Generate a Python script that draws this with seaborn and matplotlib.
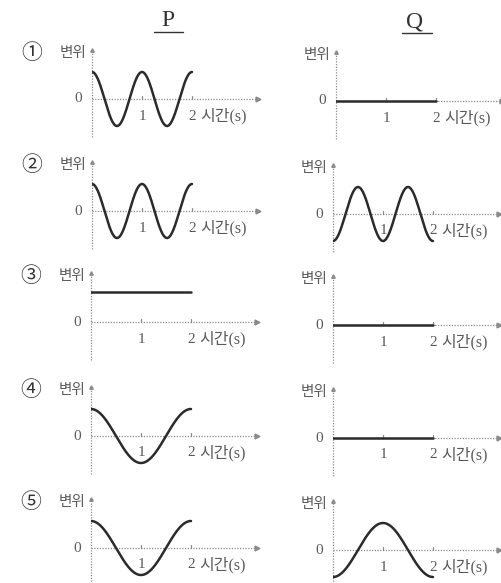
import numpy as np
import pandas as pd
import matplotlib
matplotlib.use("Agg")
import matplotlib.pyplot as plt
import seaborn as sns

# ---- data ----
row_labels = ["①", "②", "③", "④", "⑤"]
col_titles = ["P", "Q"]
y_label = "변위"
x_label = "시간(s)"
tick_times = [1, 2]
t_end = 2.0
# each panel: (kind, amplitude, frequency_Hz)  kind: 'cos', 'negcos', 'const', 'zero'
P_kind = ["cos", "cos", "const", "cos", "cos"]
P_amp = [1.0, 1.0, 1.1, 1.0, 1.0]
P_freq = [1.0, 1.0, 0.0, 0.5, 0.5]
Q_kind = ["zero", "negcos", "zero", "zero", "negcos"]
Q_amp = [0.0, 1.0, 0.0, 0.0, 1.0]
Q_freq = [0.0, 1.0, 0.0, 0.0, 0.5]

# ---- layout (pixels) ----
W, H = 501, 583
P_axis_x = [92, 92, 91, 91, 91]
P_zero_y = [99, 211, 322, 436, 548]
Q_axis_x = [336, 333, 333, 333, 333]
Q_zero_y = [101, 214, 325, 438, 550]
PX_T = 50.0   # px per second
PX_A = 27.0   # px per unit displacement
UP, DOWN, RIGHT = 52, 40, 170

sns.set_theme(style="white")
plt.rcParams["font.family"] = ["Liberation Serif", "Noto Sans CJK KR", "DejaVu Sans"]

fig = plt.figure(figsize=(W / 100, H / 100), dpi=100)
fig.patch.set_facecolor("white")

TXT = "#5a5a5a"
AX = "#8a8a8a"
CURVE = "#2b2b2b"


def series(kind, amp, freq, t):
    if kind == "cos":
        return amp * np.cos(2 * np.pi * freq * t)
    if kind == "negcos":
        return -amp * np.cos(2 * np.pi * freq * t)
    if kind == "const":
        return np.full_like(t, amp)
    return np.zeros_like(t)


def panel(ax_x, zero_y, kind, amp, freq, label=None):
    left = ax_x / W
    bottom = 1 - (zero_y + DOWN) / H
    ax = fig.add_axes([left, bottom, RIGHT / W, (UP + DOWN) / H])
    xmax = (RIGHT - 4) / PX_T
    # axes (dotted) with arrow heads
    ax.plot([0, xmax], [0, 0], ls=(0, (1, 1.2)), color=AX, lw=0.9, clip_on=False)
    ax.plot([xmax], [0], marker=">", ms=3.5, color=AX, clip_on=False)
    ytop = (UP - 3) / PX_A
    ax.plot([0, 0], [-(DOWN - 2) / PX_A, ytop], ls=(0, (1, 1.2)), color=AX, lw=0.9, clip_on=False)
    ax.plot([0], [ytop], marker="^", ms=2.5, color=AX, clip_on=False)
    for tt in tick_times:
        ax.plot([tt, tt], [0, 3 / PX_A], color=AX, lw=0.9, clip_on=False)
    # curve
    t = np.linspace(0, t_end, 400)
    df = pd.DataFrame({"t": t, "y": series(kind, amp, freq, t)})
    sns.lineplot(data=df, x="t", y="y", ax=ax, color=CURVE, lw=1.8, legend=False)
    ax.set_xlim(0, RIGHT / PX_T)
    ax.set_ylim(-DOWN / PX_A, UP / PX_A)
    ax.axis("off")
    # labels
    ax.text(-6 / PX_T, 46 / PX_A, y_label, ha="right", va="center", fontsize=10.5,
            color=TXT, family=["Noto Sans CJK KR", "DejaVu Sans"])
    ax.text(-10 / PX_T, 0, "0", ha="right", va="center", fontsize=11, color=TXT)
    ax.text(1, -17 / PX_A, "1", ha="center", va="center", fontsize=11, color=TXT)
    ax.text(2, -17 / PX_A, "2", ha="center", va="center", fontsize=11, color=TXT)
    ax.text(2 + 8 / PX_T, -17 / PX_A, x_label, ha="left", va="center", fontsize=11.5,
            color=TXT, family=["Liberation Serif", "Noto Sans CJK KR", "DejaVu Sans"])
    if label is not None:
        ax.text(-60 / PX_T, 46 / PX_A, label, ha="center", va="center", fontsize=15,
                color="#333333", family=["Noto Sans CJK KR", "DejaVu Sans"])
    return ax


for i in range(5):
    panel(P_axis_x[i], P_zero_y[i], P_kind[i], P_amp[i], P_freq[i], row_labels[i])
    panel(Q_axis_x[i], Q_zero_y[i], Q_kind[i], Q_amp[i], Q_freq[i])

# column titles with underline
title_x = [168, 415]
title_y = [21, 22]
ul = [(154, 183, 32), (402, 432, 33)]
for txt, x, y, (a, b, yy) in zip(col_titles, title_x, title_y, ul):
    fig.text(x / W, 1 - y / H, txt, ha="center", va="center", fontsize=17, color="#333333")
    fig.add_artist(plt.Line2D([a / W, b / W], [1 - yy / H, 1 - yy / H], color="#333333", lw=1.0))

fig.savefig("out.png", dpi=100, facecolor="white")
